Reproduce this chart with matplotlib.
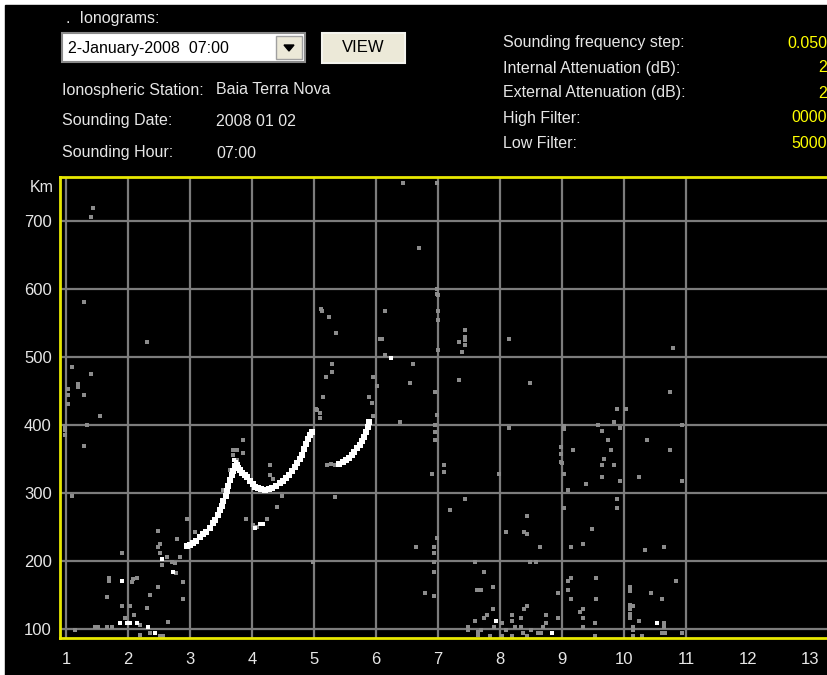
import numpy as np
import matplotlib.pyplot as plt
from matplotlib.patches import Rectangle, Polygon

W, H = 828, 675
plt.rcParams['font.family'] = ['Liberation Sans', 'DejaVu Sans']

# frequency (MHz) / virtual height (km) of the ionogram echoes
trace_f = [2.95, 3.00, 3.05, 3.10, 3.16, 3.21, 3.26, 3.32, 3.37, 3.41, 3.45, 3.48, 3.51,
           3.54, 3.58, 3.60, 3.62, 3.65, 3.68, 3.70, 3.73, 3.77, 3.80, 3.84, 3.88, 3.92,
           3.97, 4.01, 4.05, 4.10, 4.15, 4.21, 4.27, 4.33, 4.39, 4.45, 4.50, 4.55, 4.60,
           4.65, 4.69, 4.73, 4.77, 4.81, 4.84, 4.87, 4.90, 4.93, 4.96,
           5.40, 5.46, 5.52, 5.57, 5.61, 5.65, 5.70, 5.74, 5.78, 5.81, 5.84, 5.87, 5.89]
trace_h = [222, 224, 226, 230, 235, 239, 243, 249, 256, 261, 268, 275, 281,
           288, 295, 303, 311, 319, 326, 333, 340, 337, 334, 330, 327, 324,
           318, 313, 309, 307, 306, 305, 306, 308, 311, 315, 318, 322, 327,
           333, 338, 344, 350, 356, 364, 372, 380, 386, 390,
           343, 345, 348, 351, 356, 361, 366, 371, 377, 383, 390, 397, 404]

bright_f = [4.13, 4.18, 4.05, 2.55, 2.73, 1.90, 1.87, 1.98, 2.03, 2.15, 2.32, 2.44,
            6.24, 7.94, 8.84, 10.53, 3.74, 3.78, 3.71]
bright_h = [254, 254, 248, 203, 184, 171, 109, 109, 109, 109, 103, 94,
            498, 112, 94, 109, 346, 343, 349]

dim_f = [1.44, 1.40, 1.29, 2.31, 1.10, 1.40, 1.19, 1.19, 1.03, 1.03, 1.29, 1.03, 1.55,
         1.34, 0.98, 0.98, 0.98, 1.29, 1.10, 1.15,
         2.48, 2.52, 2.63, 2.71, 2.77, 2.55, 2.76, 2.84, 2.89, 2.89, 2.48, 2.35, 2.31,
         1.90, 2.15, 2.06, 2.08, 1.69, 1.69, 1.66, 1.90, 2.03, 2.10, 1.95, 2.19, 1.47,
         1.66, 1.74, 1.52, 2.19, 2.35, 2.52, 2.56, 2.65, 2.95, 2.79, 2.48, 2.52, 3.08,
         3.85, 3.69, 3.76, 3.85, 3.69, 3.76, 3.65, 4.29, 4.29, 4.34, 4.48, 4.40, 4.24,
         3.90, 4.02, 3.53, 3.56, 4.08, 5.34, 5.21, 5.05, 5.10, 4.98,
         5.11, 5.13, 5.24, 5.35, 6.15, 6.06, 6.10, 6.15, 6.60, 6.55, 5.29, 5.29, 5.19,
         5.15, 5.03, 5.10, 5.95, 6.02, 5.89, 5.94, 5.95, 6.39, 7.00, 7.00, 7.00, 7.00,
         7.34, 7.34, 6.95, 6.98, 6.95, 6.95, 6.95, 7.10, 7.10, 6.90, 5.34, 5.28, 6.44,
         6.98, 6.69, 6.98, 6.98,
         7.44, 7.44, 7.44, 7.44, 7.39, 8.15, 10.79, 8.48, 10.74, 9.89, 10.03, 9.84,
         9.58, 9.65, 9.94, 10.94, 8.15, 9.03, 9.03, 9.74, 10.37, 10.74, 9.79, 9.18,
         8.98, 8.98, 8.98, 9.68, 9.65, 9.84, 7.98, 9.03, 9.65, 10.24, 9.00, 9.94,
         9.39, 9.10, 10.94, 7.44, 7.19, 9.89, 9.89, 9.03, 8.44, 8.10, 8.39, 8.44,
         9.48, 6.98, 6.94, 6.94, 6.94, 6.94, 6.94, 6.79, 8.65, 9.15, 9.34, 10.34,
         10.65, 7.60, 8.48, 8.58, 7.74, 9.10, 9.15, 9.55, 10.84, 7.63, 7.69, 7.89,
         9.10, 8.94, 9.15, 9.55, 10.10, 10.10, 10.44, 10.61, 7.89, 7.79, 7.74, 7.60,
         8.44, 8.39, 8.19, 8.34, 8.74, 8.94, 9.34, 9.29, 9.34, 9.53, 9.34, 10.10,
         10.10, 10.10, 10.10, 10.15, 10.24, 10.65, 10.65, 7.48, 7.48, 7.65, 7.65,
         7.70, 7.84, 7.90, 8.03, 8.03, 8.10, 8.19, 8.24, 8.19, 8.34, 8.37, 8.44, 8.50,
         8.61, 8.66, 8.69, 8.74, 9.53, 10.15, 10.15, 10.15, 10.29, 10.61, 10.66,
         10.94, 6.65]
dim_h = [719, 706, 581, 522, 485, 475, 460, 456, 453, 444, 444, 431, 413,
         400, 398, 392, 386, 369, 296, 98,
         221, 212, 206, 198, 182, 194, 197, 206, 169, 144, 162, 150, 131,
         212, 175, 169, 173, 175, 171, 147, 134, 134, 121, 116, 106, 103,
         103, 103, 103, 91, 94, 90, 90, 110, 262, 232, 244, 225, 243,
         378, 363, 363, 359, 356, 349, 334, 341, 326, 320, 296, 279, 262,
         262, 253, 304, 296, 250, 294, 341, 422, 418, 199,
         571, 568, 559, 535, 568, 526, 526, 503, 490, 462, 490, 478, 471,
         441, 424, 410, 471, 457, 441, 432, 413, 404, 591, 568, 554, 510,
         522, 466, 448, 415, 400, 390, 378, 341, 331, 328, 341, 343, 756,
         756, 660, 593, 600,
         540, 529, 525, 518, 507, 526, 513, 462, 448, 424, 424, 404,
         400, 391, 396, 400, 396, 399, 394, 378, 378, 363, 363, 363,
         368, 357, 345, 350, 341, 341, 328, 328, 324, 324, 344, 318,
         313, 304, 318, 291, 275, 291, 278, 278, 266, 243, 243, 240,
         247, 234, 221, 212, 199, 184, 149, 153, 221, 221, 225, 216,
         221, 199, 199, 199, 184, 171, 175, 175, 171, 157, 157, 162,
         157, 153, 144, 144, 162, 156, 153, 144, 129, 121, 116, 112,
         134, 129, 121, 116, 121, 116, 129, 125, 116, 109, 103, 135,
         129, 122, 116, 134, 112, 109, 103, 103, 98, 95, 91,
         98, 90, 103, 109, 90, 98, 112, 103, 90, 103, 94, 90, 98,
         94, 94, 103, 109, 90, 103, 98, 90, 90, 94, 94,
         94, 221]

grid_f = [1, 2, 3, 4, 5, 6, 7, 8, 9, 10, 11]
freq_ticks = [1, 2, 3, 4, 5, 6, 7, 8, 9, 10, 11, 12, 13]
height_ticks = [100, 200, 300, 400, 500, 600, 700]

info_left = [("Ionospheric Station:", "Baia Terra Nova"),
             ("Sounding Date:", "2008 01 02"),
             ("Sounding Hour:", "07:00")]
info_right = [("Sounding frequency step:", "0.050"),
              ("Internal Attenuation (dB):", "2"),
              ("External Attenuation (dB):", "2"),
              ("High Filter:", "0000"),
              ("Low Filter:", "5000")]

fig = plt.figure(figsize=(W / 100, H / 100), dpi=100, facecolor='white')

# background panel in pixel coordinates
bg = fig.add_axes([0, 0, 1, 1])
bg.set_xlim(0, W)
bg.set_ylim(H, 0)
bg.axis('off')
bg.add_patch(Rectangle((5, 5), W, H, color='black'))

txt = '#e6e6e6'
fs = 11.5
bg.text(66, 18, ".  Ionograms:", color=txt, fontsize=fs, va='center')
bg.add_patch(Rectangle((62, 33), 243, 29, fc='white', ec='#8a8a8a', lw=1.5))
bg.add_patch(Rectangle((276, 36), 26, 23, fc='#ece9d8', ec='#a0a0a0', lw=1))
bg.add_patch(Polygon([(284, 45), (294, 45), (289, 51)], color='black'))
bg.text(68, 48, "2-January-2008  07:00", color='black', fontsize=fs, va='center')
bg.add_patch(Rectangle((322, 33), 83, 30, fc='#ece9d8', ec='#f4f4ee', lw=1.5))
bg.text(363, 48, "VIEW", color='black', fontsize=fs + 0.5, va='center', ha='center')

for i, (lab, val) in enumerate(info_left):
    y = [90, 121, 153][i]
    bg.text(62, y, lab, color=txt, fontsize=fs, va='center')
    bg.text(216, y, val, color=txt, fontsize=fs, va='center')

for i, (lab, val) in enumerate(info_right):
    y = 43 + 25 * i
    bg.text(503, y, lab, color=txt, fontsize=fs, va='center')
    bg.text(827, y, val, color='#ffff00', fontsize=fs, va='center', ha='right')

bg.text(42, 188, "Km", color=txt, fontsize=fs, va='center', ha='center')

# ionogram
ax = fig.add_axes([60 / W, 1 - 638 / H, (W - 60) / W, (638 - 177) / H])
ax.set_facecolor('black')
ax.set_xlim(0.903, 13.29)
ax.set_ylim(86.8, 764.7)

for f in grid_f:
    ax.axvline(f, color='#7c7c7c', lw=1.6, zorder=1)
for h in height_ticks:
    ax.axhline(h, color='#7c7c7c', lw=1.6, zorder=1)

ax.scatter(dim_f, dim_h, s=6, marker='s', color='#8c8c8c', linewidths=0, zorder=2)
ax.scatter(trace_f, trace_h, s=15, marker='s', color='white', linewidths=0, zorder=3)
ax.scatter(bright_f, bright_h, s=8, marker='s', color='white', linewidths=0, zorder=3)

for side in ['left', 'top', 'bottom']:
    ax.spines[side].set_color('#e8e800')
    ax.spines[side].set_linewidth(2)
ax.spines['right'].set_visible(False)

ax.set_xticks(freq_ticks)
ax.set_yticks(height_ticks)
ax.tick_params(length=0, labelcolor=txt, labelsize=12)
ax.tick_params(axis='x', pad=10)
ax.tick_params(axis='y', pad=6)

fig.savefig('out.png', dpi=100, facecolor=fig.get_facecolor())
